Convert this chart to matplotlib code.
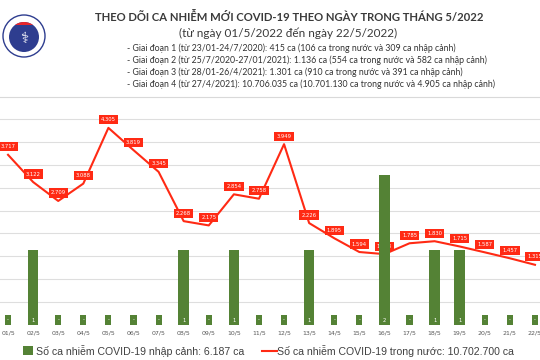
import matplotlib
matplotlib.use('Agg')
import matplotlib.pyplot as plt
from matplotlib.patches import Circle, Rectangle

# du lieu
days = ['01/5', '02/5', '03/5', '04/5', '05/5', '06/5', '07/5', '08/5', '09/5', '10/5', '11/5',
        '12/5', '13/5', '14/5', '15/5', '16/5', '17/5', '18/5', '19/5', '20/5', '21/5', '22/5']
imported = [0, 1, 0, 0, 0, 0, 0, 1, 0, 1, 0, 0, 1, 0, 0, 2, 0, 1, 1, 0, 0, 0]
domestic = [3717, 3122, 2709, 3088, 4305, 3819, 3345, 2268, 2175, 2854, 2758,
            3949, 2226, 1895, 1594, 1548, 1785, 1830, 1715, 1587, 1457, 1315]

title = 'THEO DÕI CA NHIỄM MỚI COVID-19 THEO NGÀY TRONG THÁNG 5/2022'
subtitle = '(từ ngày 01/5/2022 đến ngày 22/5/2022)'
notes = ['- Giai đoạn 1 (từ 23/01-24/7/2020): 415 ca (106 ca trong nước và 309 ca nhập cảnh)',
         '- Giai đoạn 2 (từ 25/7/2020-27/01/2021): 1.136 ca (554 ca trong nước và 582 ca nhập cảnh)',
         '- Giai đoạn 3 (từ 28/01-26/4/2021): 1.301 ca (910 ca trong nước và 391 ca nhập cảnh)',
         '- Giai đoạn 4 (từ 27/4/2021): 10.706.035 ca (10.701.130 ca trong nước và 4.905 ca nhập cảnh)']
legend_bar = 'Số ca nhiễm COVID-19 nhập cảnh: 6.187 ca'
legend_line = 'Số ca nhiễm COVID-19 trong nước: 10.702.700 ca'

GREEN = '#548235'
RED = '#ff2a14'


def vn(n):
    return '{:,}'.format(n).replace(',', '.')


fig = plt.figure(figsize=(5.4, 3.6), dpi=100)

# header + legend layer, pixel coordinates
hd = fig.add_axes([0, 0, 1, 1])
hd.set_xlim(0, 540)
hd.set_ylim(360, 0)
hd.axis('off')

# logo
hd.add_patch(Circle((24, 36), 21, fc='white', ec='#2e3d8f', lw=1))
inner = Circle((24, 37), 15, fc='#2e3d8f', ec='none')
hd.add_patch(inner)
top = Rectangle((5, 15), 40, 10, fc='#e8262b', ec='none')
hd.add_patch(top)
top.set_clip_path(inner)
hd.text(24, 38, '⚕', color='white', fontsize=11, ha='center', va='center',
        family=['DejaVu Sans'])

hd.text(289, 17, title, fontsize=8.1, fontweight='bold', color='#3a3a3a',
        ha='center', va='center', family='Lato')
hd.text(288, 33, subtitle, fontsize=8.5, color='#3a3a3a',
        ha='center', va='center', family='Lato')
for k, s in enumerate(notes):
    hd.text(127, 48 + 12 * k, s, fontsize=6.3, color='#333333',
            ha='left', va='center', family='Lato')
hd.plot([0, 540], [97, 97], color='#d9d9d9', lw=0.8)

# legend
hd.add_patch(Rectangle((23, 346), 10, 9, fc=GREEN, ec='none'))
hd.text(36, 351, legend_bar, fontsize=7.6, color='#404040', va='center',
        family='Liberation Sans')
hd.plot([262, 277], [351, 351], color=RED, lw=1.5)
hd.text(277, 351, legend_line, fontsize=7.6, color='#404040', va='center',
        family='Liberation Sans')

# chart
ax = fig.add_axes([0, 0.0972, 1, 0.636])
x = list(range(len(days)))
ax.bar(x, imported, width=0.42, color=GREEN, zorder=2)
ax.set_ylim(0, 3.05)
ax.set_xlim(-0.32, 21.2)
ax.set_yticks([])
for s in ax.spines.values():
    s.set_visible(False)
ax.set_xticks(x)
ax.set_xticklabels(days, fontsize=4.5, color='#595959')
ax.tick_params(axis='x', length=0, pad=4)
for i, v in enumerate(imported):
    ax.annotate(str(v) if v else '-', (i, 0), xytext=(0, 5), textcoords='offset pixels',
                ha='center', va='center', fontsize=3.8, color='white', zorder=4,
                bbox=dict(boxstyle='square,pad=0.4', fc=GREEN, ec='none'))

ax2 = ax.twinx()
ax2.set_ylim(0, 5000)
ax2.set_yticks(range(500, 5000, 500))
ax2.yaxis.grid(True, color='#dedede', lw=0.8)
ax2.set_axisbelow(True)
ax2.tick_params(axis='y', length=0, labelright=False)
for s in ax2.spines.values():
    s.set_visible(False)
ax2.plot(x, domestic, color=RED, lw=1.5, zorder=3)
for i, v in enumerate(domestic):
    ax2.annotate(vn(v), (i, v), xytext=(0, 8), textcoords='offset pixels',
                 ha='center', va='center', fontsize=3.8, color='white', zorder=5,
                 bbox=dict(boxstyle='square,pad=0.4', fc=RED, ec='none'))

# grid behind bars
ax.set_zorder(ax2.get_zorder() + 1)
ax.patch.set_visible(False)
ax2.patch.set_visible(False)

fig.savefig('out.png', dpi=100)
